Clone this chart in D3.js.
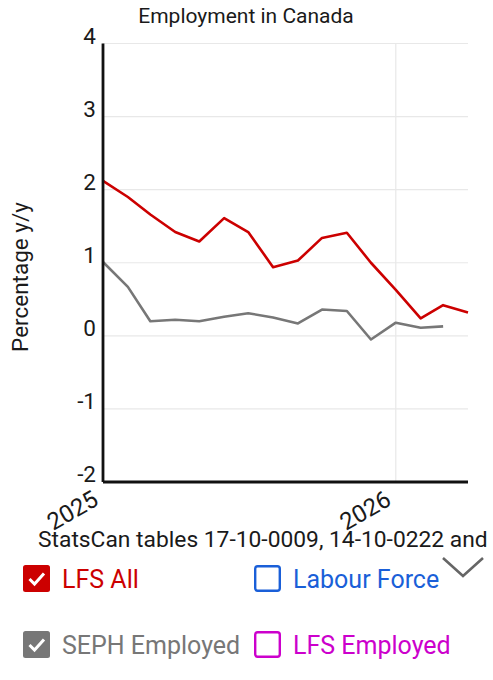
<!DOCTYPE html>
<html>
<head>
<meta charset="utf-8">
<script src="https://cdn.jsdelivr.net/npm/d3@7"></script>
<style>
  body { margin: 0; background: #fff; }
  svg { display: block; font-family: Roboto, "Noto Sans", sans-serif; }
</style>
</head>
<body>
<svg id="chart"></svg>
<script>
// Monthly y/y change, Jan 2025 .. Apr 2026
const months = ["2025-01", "2025-02", "2025-03", "2025-04", "2025-05", "2025-06",
  "2025-07", "2025-08", "2025-09", "2025-10", "2025-11", "2025-12",
  "2026-01", "2026-02", "2026-03", "2026-04"];
const lfsAll = [2.12, 1.9, 1.66, 1.42, 1.29, 1.61, 1.42, 0.94, 1.03, 1.34, 1.41, 1.0,
  0.63, 0.24, 0.42, 0.32];
const sephEmployed = [1.01, 0.67, 0.2, 0.22, 0.2, 0.26, 0.31, 0.25, 0.17, 0.36, 0.34, -0.05,
  0.18, 0.11, 0.13];
const yTicks = [-2, -1, 0, 1, 2, 3, 4];
const xTicks = ["2025-01", "2026-01"];
const legendItems = [
  { name: "LFS All", color: "#cc0000", checked: true },
  { name: "Labour Force", color: "#1a5fd8", checked: false },
  { name: "SEPH Employed", color: "#777777", checked: true },
  { name: "LFS Employed", color: "#cc00cc", checked: false }
];

const width = 493, height = 680;
const margin = { top: 43.5, right: 25, bottom: 198, left: 103 };
const parse = d3.timeParse("%Y-%m");

const svg = d3.select("#chart")
  .attr("width", width)
  .attr("height", height);

// scales
const x = d3.scaleTime()
  .domain([parse("2025-01"), parse("2026-04")])
  .range([margin.left, width - margin.right]);
const y = d3.scaleLinear()
  .domain([-2, 4])
  .range([height - margin.bottom, margin.top]);

// grid lines
svg.append("g")
  .selectAll("line")
  .data(yTicks)
  .enter()
  .append("line")
  .attr("x1", margin.left)
  .attr("x2", width - margin.right)
  .attr("y1", d => y(d))
  .attr("y2", d => y(d))
  .attr("stroke", "#e8e8e8")
  .attr("stroke-width", 1.2);

svg.append("g")
  .selectAll("line")
  .data(xTicks.map(parse))
  .enter()
  .append("line")
  .attr("x1", d => x(d))
  .attr("x2", d => x(d))
  .attr("y1", margin.top)
  .attr("y2", height - margin.bottom)
  .attr("stroke", "#e8e8e8")
  .attr("stroke-width", 1.2);

// y tick labels sit just above their grid line
svg.append("g")
  .selectAll("text")
  .data(yTicks)
  .enter()
  .append("text")
  .attr("x", margin.left - 7)
  .attr("y", d => y(d))
  .attr("text-anchor", "end")
  .style("font-size", "22.5px")
  .style("fill", "#1a1a1a")
  .text(d => d);

// x tick labels, rotated
svg.append("g")
  .selectAll("text")
  .data(xTicks.map(parse))
  .enter()
  .append("text")
  .attr("transform", d => `translate(${x(d) - 3},${y(-2) + 22}) rotate(-30)`)
  .attr("text-anchor", "end")
  .style("font-size", "24px")
  .style("fill", "#1a1a1a")
  .text(d => d3.timeFormat("%Y")(d));

// lines
const line = d3.line()
  .x((d, i) => x(parse(months[i])))
  .y(d => y(d));

svg.append("path")
  .datum(sephEmployed)
  .attr("d", line)
  .attr("fill", "none")
  .attr("stroke", "#777777")
  .attr("stroke-width", 2.6)
  .attr("stroke-linejoin", "round");

svg.append("path")
  .datum(lfsAll)
  .attr("d", line)
  .attr("fill", "none")
  .attr("stroke", "#cc0000")
  .attr("stroke-width", 2.6)
  .attr("stroke-linejoin", "round");

// axes lines
svg.append("line")
  .attr("x1", margin.left).attr("x2", margin.left)
  .attr("y1", y(4)).attr("y2", y(-2))
  .attr("stroke", "#111").attr("stroke-width", 2.8);
svg.append("line")
  .attr("x1", margin.left).attr("x2", width - margin.right)
  .attr("y1", y(-2)).attr("y2", y(-2))
  .attr("stroke", "#111").attr("stroke-width", 2.8);

// title and axis title
svg.append("text")
  .attr("x", 246)
  .attr("y", 22.5)
  .attr("text-anchor", "middle")
  .style("font-size", "21px")
  .style("fill", "#1a1a1a")
  .text("Employment in Canada");

svg.append("text")
  .attr("transform", `translate(28,${277}) rotate(-90)`)
  .attr("text-anchor", "middle")
  .style("font-size", "22.5px")
  .style("fill", "#1a1a1a")
  .text("Percentage y/y");

// source line
svg.append("text")
  .attr("x", 38)
  .attr("y", 547)
  .style("font-size", "22.8px")
  .style("fill", "#1a1a1a")
  .text("StatsCan tables 17-10-0009, 14-10-0222 and");

// legend with checkboxes
const legend = svg.append("g")
  .selectAll("g")
  .data(legendItems)
  .enter()
  .append("g")
  .attr("transform", (d, i) => `translate(${i % 2 === 0 ? 23 : 254},${i < 2 ? 565 : 631})`);

legend.append("rect")
  .attr("x", d => d.checked ? 0 : 1.2)
  .attr("y", d => d.checked ? 0 : 1.2)
  .attr("width", d => d.checked ? 27 : 24.6)
  .attr("height", d => d.checked ? 27 : 24.6)
  .attr("rx", 2.5)
  .attr("fill", d => d.checked ? d.color : "#fff")
  .attr("stroke", d => d.color)
  .attr("stroke-width", d => d.checked ? 0 : 2.4);

legend.filter(d => d.checked)
  .append("path")
  .attr("d", "M6.5,14 L11.5,19 L21,8.5")
  .attr("fill", "none")
  .attr("stroke", "#fff")
  .attr("stroke-width", 3);

legend.append("text")
  .attr("x", 39)
  .attr("y", 23)
  .style("font-size", "25px")
  .style("fill", d => d.color)
  .text(d => d.name);

// dropdown chevron
svg.append("path")
  .attr("d", "M443,558 L463,576 L483,558")
  .attr("fill", "none")
  .attr("stroke", "#666")
  .attr("stroke-width", 2.6);
</script>
</body>
</html>
